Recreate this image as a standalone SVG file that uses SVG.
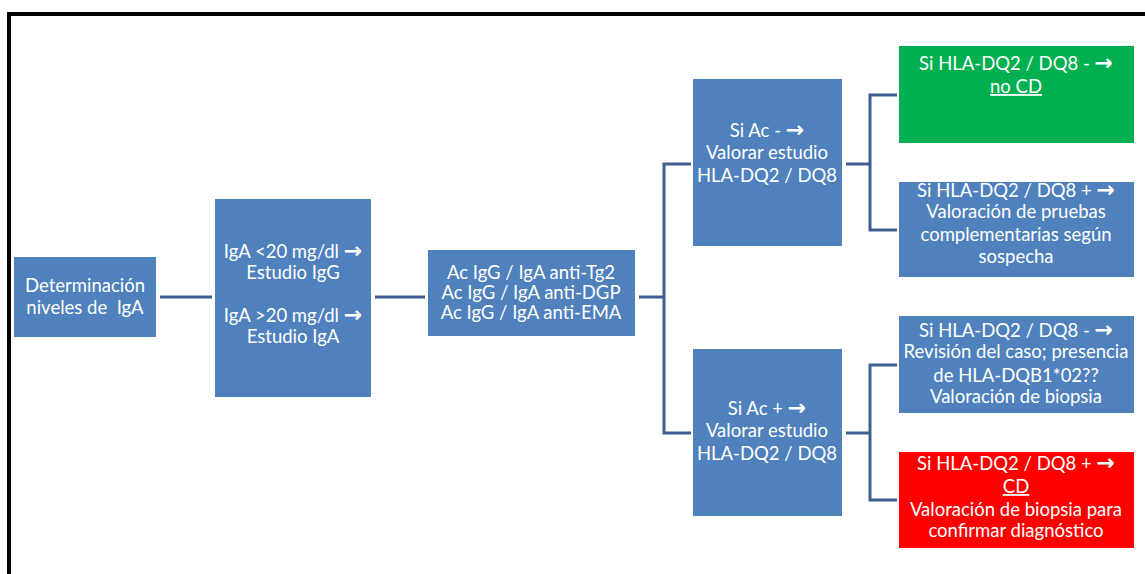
<svg xmlns="http://www.w3.org/2000/svg" width="1145" height="574" viewBox="0 0 1145 574">
  <style>
    .box { fill: #4F81BD; }
    .green { fill: #00B050; }
    .red { fill: #FF0000; }
    .lbl { font-family: Lato, "Open Sans", "Liberation Sans", sans-serif; font-size: 18.5px; fill: #FFFFFF; text-anchor: middle; white-space: pre; }
    .arr { font-family: "DejaVu Sans", sans-serif; font-weight: bold; font-size: 22px; }
    .u { text-decoration: underline; }
    .conn { fill: none; stroke: #3C5F8E; stroke-width: 3; }
    .frame { stroke: #000000; stroke-width: 4; fill: none; }
  </style>
  <rect x="0" y="0" width="1145" height="574" fill="#FFFFFF"/>
  <!-- frame: top and left edges -->
  <path class="frame" d="M9 574 V14 H1145"/>

  <g id="connectors">
    <path class="conn" d="M160 297 H212"/>
    <path class="conn" d="M375 297 H425"/>
    <path class="conn" d="M639 297 H664"/>
    <path class="conn" d="M691 164 H664 V433 H691"/>
    <path class="conn" d="M846 164 H870"/>
    <path class="conn" d="M897 95 H870 V230 H897"/>
    <path class="conn" d="M846 433 H870"/>
    <path class="conn" d="M897 365 H870 V500 H897"/>
  </g>

  <g id="n-igA">
    <rect class="box" x="14" y="257" width="142" height="80"/>
    <text class="lbl" x="85" y="292">Determinación</text>
    <text class="lbl" x="85" y="314">niveles de  IgA</text>
  </g>

  <g id="n-estudio">
    <rect class="box" x="215" y="199" width="156" height="198"/>
    <text class="lbl" x="293" y="258">IgA &lt;20 mg/dl <tspan class="arr">→</tspan></text>
    <text class="lbl" x="293" y="279">Estudio IgG</text>
    <text class="lbl" x="293" y="322">IgA &gt;20 mg/dl <tspan class="arr">→</tspan></text>
    <text class="lbl" x="293" y="343">Estudio IgA</text>
  </g>

  <g id="n-ac">
    <rect class="box" x="428" y="250" width="207" height="86"/>
    <text class="lbl" x="531" y="279">Ac IgG / IgA anti-Tg2</text>
    <text class="lbl" x="531" y="299">Ac IgG / IgA anti-DGP</text>
    <text class="lbl" x="531" y="319">Ac IgG / IgA anti-EMA</text>
  </g>

  <g id="n-ac-neg">
    <rect class="box" x="693" y="79" width="149" height="167"/>
    <text class="lbl" x="767" y="137">Si Ac - <tspan class="arr">→</tspan></text>
    <text class="lbl" x="767" y="159">Valorar estudio</text>
    <text class="lbl" x="767" y="182">HLA-DQ2 / DQ8</text>
  </g>

  <g id="n-ac-pos">
    <rect class="box" x="693" y="349" width="149" height="167"/>
    <text class="lbl" x="767" y="415">Si Ac + <tspan class="arr">→</tspan></text>
    <text class="lbl" x="767" y="437">Valorar estudio</text>
    <text class="lbl" x="767" y="460">HLA-DQ2 / DQ8</text>
  </g>

  <g id="n-no-cd">
    <rect class="green" x="899" y="46" width="235" height="97"/>
    <text class="lbl" x="1016" y="70">Si HLA-DQ2 / DQ8 - <tspan class="arr">→</tspan></text>
    <text class="lbl u" x="1016" y="93">no CD</text>
  </g>

  <g id="n-pruebas">
    <rect class="box" x="899" y="182" width="235" height="95"/>
    <text class="lbl" x="1016" y="197">Si HLA-DQ2 / DQ8 + <tspan class="arr">→</tspan></text>
    <text class="lbl" x="1016" y="218">Valoración de pruebas</text>
    <text class="lbl" x="1016" y="241">complementarias según</text>
    <text class="lbl" x="1016" y="263">sospecha</text>
  </g>

  <g id="n-revision">
    <rect class="box" x="899" y="316" width="235" height="97"/>
    <text class="lbl" x="1016" y="337">Si HLA-DQ2 / DQ8 - <tspan class="arr">→</tspan></text>
    <text class="lbl" x="1016" y="358">Revisión del caso; presencia</text>
    <text class="lbl" x="1016" y="382">de HLA-DQB1*02??</text>
    <text class="lbl" x="1016" y="403">Valoración de biopsia</text>
  </g>

  <g id="n-cd">
    <rect class="red" x="899" y="452" width="235" height="96"/>
    <text class="lbl" x="1016" y="470">Si HLA-DQ2 / DQ8 + <tspan class="arr">→</tspan></text>
    <text class="lbl u" x="1016" y="493">CD</text>
    <text class="lbl" x="1016" y="516">Valoración de biopsia para</text>
    <text class="lbl" x="1016" y="537">confirmar diagnóstico</text>
  </g>
</svg>
